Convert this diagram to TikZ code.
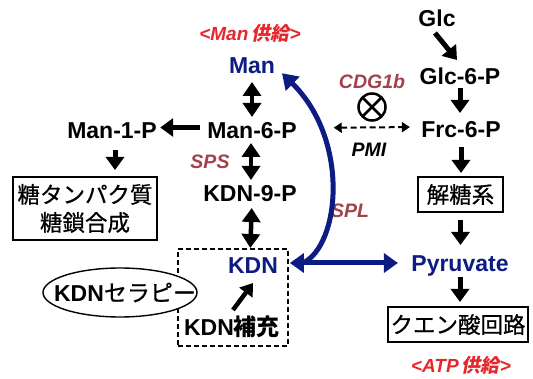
\documentclass[tikz,border=0pt]{standalone}
\usepackage{fontspec}
\setmainfont{Liberation Sans}
\newfontfamily\jp{Noto Sans CJK JP}
\newfontfamily\jpm{Noto Sans CJK JP}[FakeBold=0.7]
\newfontfamily\jpi{Noto Sans CJK JP}[FakeSlant=0.2]
\usetikzlibrary{arrows.meta,shapes.geometric}
\definecolor{navy}{RGB}{12,28,130}
\definecolor{supred}{RGB}{230,40,45}
\definecolor{enz}{RGB}{165,65,75}
\begin{document}
\begin{tikzpicture}[x=1pt,y=-1pt,
  lbl/.style={font=\fontsize{23}{26}\selectfont\bfseries, inner sep=0pt, outer sep=0pt, text height=16.5pt, text depth=0pt},
  bl/.style={lbl, text=navy},
  enzl/.style={font=\fontsize{19.5}{22}\selectfont\bfseries\itshape, text=enz, inner sep=0pt},
  supl/.style={font=\fontsize{19}{22}\selectfont\bfseries\itshape, text=supred, inner sep=0pt},
  boxn/.style={draw, line width=1.6pt, font=\fontsize{22.5}{28}\selectfont\jpm, align=center, inner sep=0pt, outer sep=0pt},
  arr/.style={line width=5pt, -{Triangle[width=18pt,length=13pt]}},
  dbl/.style={line width=4.5pt, {Triangle[width=18pt,length=14pt]}-{Triangle[width=18pt,length=14pt]}},
  blu/.style={draw=navy, line width=5pt},
  ]
\useasboundingbox[fill=white] (0,0) rectangle (533,379);

% supply labels
\node[supl] (mansup) at (250,33) {<Man\,{\jpi\bfseries 供給}>};
\node[supl] (atpsup) at (461,365) {<ATP\,{\jpi\bfseries 供給}>};

% left column
\node[bl]  (man) at (252,65)  {Man};
\node[lbl] (m6)  at (252,130) {Man-6-P};
\node[lbl] (m1)  at (112,130) {Man-1-P};
\node[lbl] (k9)  at (250,193) {KDN-9-P};
\node[boxn, minimum width=144pt, minimum height=63pt] (glyc) at (85,208.5) {糖タンパク質\\糖鎖合成};

% dashed group
\node[draw, dashed, dash pattern=on 5pt off 3pt, line width=1.5pt, minimum width=110pt, minimum height=97pt, inner sep=0pt] (grp) at (233,297.5) {};
\node[bl]  (kdn)  at (253,265) {KDN};
\node[lbl] (kdnh) at (232,327) {KDN{\jp\bfseries 補充}};
\path[draw, fill=white, line width=1.4pt] (120,292.5) ellipse [x radius=77pt, y radius=24.5pt];
\node[inner sep=0pt, font=\fontsize{23}{26}\selectfont] (ther) at (125,292.5) {\bfseries KDN{\jpm\mdseries セラピー}};

% right column
\node[lbl] (glc) at (437,18)  {Glc};
\node[lbl] (g6p) at (460,76)  {Glc-6-P};
\node[lbl] (f6p) at (461,129) {Frc-6-P};
\node[boxn, minimum width=85pt, minimum height=35pt] (glyco) at (460.5,194.5) {解糖系};
\node[bl]  (pyr) at (460,263) {Pyruvate};
\node[boxn, minimum width=140pt, minimum height=35pt] (tca) at (458,324.5) {クエン酸回路};

% enzyme labels
\node[enzl] (sps) at (210,162) {SPS};
\node[enzl] (spl) at (350,211) {SPL};
\node[enzl] (cdg) at (372,82)  {CDG1b};
\node[enzl, text=black] (pmi) at (369,150) {PMI};
\node[circle, draw, line width=2.5pt, minimum size=27pt, inner sep=0pt, outer sep=0pt] (ot) at (372,107) {};
\draw[line width=2.5pt] (ot.north west) -- (ot.south east);
\draw[line width=2.5pt] (ot.north east) -- (ot.south west);

% black arrows
\draw[dbl, shorten <=8.75pt, shorten >=4.75pt] (man.south) -- (m6.north);
\draw[dbl, shorten <=4.75pt, shorten >=4.75pt] ([xshift=-1pt]m6.south) -- ([xshift=1pt]k9.north);
\draw[dbl, shorten <=6.75pt, shorten >=8.75pt] ([xshift=2pt]k9.south) -- (kdn.north -| k9.south);
\draw[arr, shorten <=7pt, shorten >=3.5pt] ([yshift=2.5pt]m6.west) -- ([yshift=2.5pt]m1.east);
\draw[arr, shorten <=12pt, shorten >=7pt] ([xshift=3pt]m1.south) -- ([xshift=3pt]glyc.north -| m1.south);
\draw[arr] ([xshift=-2pt,yshift=-6.75pt]glc.south) -- ([xshift=-3pt,yshift=7.75pt]g6p.north);
\draw[arr, shorten <=3.75pt, shorten >=7.75pt] (g6p.south) -- (f6p.north -| g6p.south);
\draw[arr, shorten <=9.75pt, shorten >=4pt] (f6p.south) -- (glyco.north -| f6p.south);
\draw[arr, shorten <=8pt, shorten >=9.75pt] (glyco.south) -- (pyr.north -| glyco.south);
\draw[arr, shorten <=5.75pt, shorten >=5pt] (pyr.south) -- (tca.north -| pyr.south);
\draw[arr, line width=4.5pt, -{Triangle[width=16pt,length=12pt]}] ([xshift=1pt,yshift=8.75pt]kdnh.north) -- ([yshift=-9.75pt]kdn.south);

% dashed PMI arrow
\draw[line width=2pt, dash pattern=on 6pt off 3.5pt, {Triangle[width=10pt,length=8pt]}-{Triangle[width=10pt,length=8pt]},
      shorten <=37pt, shorten >=11.5pt] ([yshift=2pt]m6.east) -- ([yshift=2pt]f6p.west);

% blue arrows
\coordinate (j) at (303,263);
\draw[blu, {Triangle[width=19pt,length=14pt]}-{Triangle[width=19pt,length=14pt]}, shorten <=12pt, shorten >=13.5pt]
  (kdn.east |- pyr.west) -- (pyr.west);
\draw[blu, -{Triangle[width=19pt,length=15pt]}] (j) .. controls (340,245) and (350,140) .. ([xshift=7pt]man.south east);
\end{tikzpicture}
\end{document}
